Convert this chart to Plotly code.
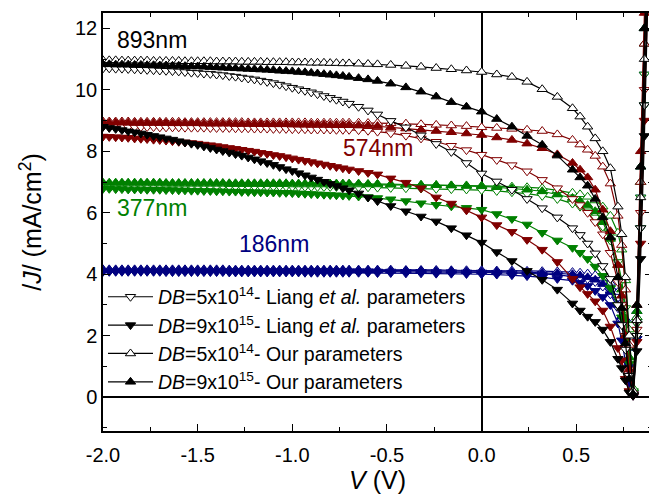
import plotly.graph_objects as go

# Voltage grid (V): dense part then sparse part
V_DENSE = [-2.000, -1.967, -1.933, -1.900, -1.867, -1.833, -1.800, -1.767, -1.733, -1.700,
           -1.667, -1.633, -1.600, -1.567, -1.533, -1.500, -1.467, -1.433, -1.400, -1.367,
           -1.333, -1.300, -1.267, -1.233, -1.200, -1.167, -1.133, -1.100, -1.067, -1.033,
           -1.000, -0.967, -0.933, -0.900, -0.867, -0.833, -0.800, -0.767, -0.733, -0.700]
V_SPARSE = [-0.65, -0.60, -0.55, -0.48, -0.40, -0.32, -0.24, -0.16, -0.08, 0.00,
            0.08, 0.16, 0.24, 0.32, 0.40, 0.48, 0.52, 0.56, 0.60, 0.64,
            0.68, 0.72, 0.74, 0.76, 0.78, 0.80, 0.82, 0.84, 0.86, 0.88]

X_TICKS = [-2.0, -1.5, -1.0, -0.5, 0.0, 0.5]
X_TICK_LABELS = ["-2.0", "-1.5", "-1.0", "-0.5", "0.0", "0.5"]
Y_TICKS = [0, 2, 4, 6, 8, 10, 12]
Y_TICK_LABELS = ["0", "2", "4", "6", "8", "10", "12"]

# 893 nm
J893_ours5_d = [10.96,10.96,10.96,10.95,10.95,10.95,10.95,10.95,10.94,10.94,
                10.94,10.94,10.94,10.93,10.93,10.93,10.93,10.93,10.92,10.92,
                10.92,10.92,10.91,10.91,10.91,10.91,10.90,10.90,10.90,10.90,
                10.89,10.89,10.89,10.88,10.88,10.88,10.87,10.87,10.86,10.86]
J893_ours5_s = [10.85,10.84,10.83,10.81,10.78,10.75,10.71,10.67,10.63,10.58,10.50,10.42,10.26,10.02,9.77,
                9.40,9.13,8.80,8.42,8.00,7.45,6.20,5.30,3.90,2.00,0.20,2.5,6.5,11.0,15.5]
J893_ours9_d = [10.83,10.83,10.82,10.82,10.82,10.81,10.81,10.80,10.80,10.79,
                10.79,10.78,10.78,10.77,10.76,10.76,10.75,10.74,10.73,10.72,
                10.71,10.70,10.69,10.68,10.67,10.66,10.65,10.64,10.62,10.61,
                10.60,10.58,10.57,10.55,10.53,10.51,10.49,10.47,10.45,10.42]
J893_ours9_s = [10.38,10.34,10.29,10.20,10.08,9.94,9.78,9.60,9.45,9.29,9.05,8.80,8.50,8.21,7.86,
                7.40,7.15,6.88,6.45,5.85,5.20,3.90,2.90,1.75,0.60,0.10,3.0,7.5,12.0,16.0]
J893_liang5_d = [10.70,10.70,10.69,10.69,10.68,10.67,10.66,10.65,10.64,10.63,
                 10.62,10.61,10.60,10.58,10.56,10.55,10.53,10.52,10.50,10.48,
                 10.45,10.43,10.40,10.37,10.34,10.30,10.26,10.22,10.17,10.12,
                 10.07,10.02,9.97,9.92,9.86,9.80,9.74,9.68,9.62,9.55]
J893_liang5_s = [9.45,9.33,9.20,8.99,8.78,8.52,8.24,7.98,7.62,7.28,7.02,6.75,6.45,6.15,5.85,
                 5.50,5.28,5.00,4.68,4.27,3.85,3.00,2.35,1.55,0.70,0.08,2.0,5.5,9.5,14.0]
J893_liang9_d = [8.80,8.76,8.73,8.69,8.65,8.62,8.58,8.54,8.50,8.46,
                 8.42,8.38,8.33,8.29,8.25,8.21,8.16,8.11,8.06,8.01,
                 7.96,7.91,7.86,7.80,7.74,7.68,7.62,7.56,7.49,7.42,
                 7.36,7.29,7.22,7.15,7.08,7.01,6.94,6.87,6.80,6.73]
J893_liang9_s = [6.63,6.50,6.38,6.22,6.05,5.88,5.72,5.50,5.27,5.03,4.72,4.43,4.11,3.82,3.50,
                 3.05,2.82,2.62,2.45,2.20,1.80,1.25,0.95,0.55,0.15,0.05,1.5,4.5,8.5,13.5]

# 574 nm
J574_ours5_d = [8.97,8.97,8.97,8.97,8.97,8.96,8.96,8.96,8.96,8.96,
                8.96,8.96,8.96,8.95,8.95,8.95,8.95,8.95,8.95,8.95,
                8.95,8.95,8.95,8.94,8.94,8.94,8.94,8.94,8.94,8.94,
                8.94,8.94,8.94,8.93,8.93,8.93,8.93,8.93,8.93,8.93]
J574_ours5_s = [8.93,8.92,8.92,8.91,8.90,8.88,8.86,8.84,8.82,8.78,8.76,8.73,8.70,8.66,8.55,
                8.37,8.22,8.05,7.85,7.50,6.95,5.90,4.95,3.50,1.70,0.20,2.5,7.0,11.5,16.0]
J574_ours9_d = [8.93,8.93,8.93,8.93,8.93,8.92,8.92,8.92,8.92,8.92,
                8.92,8.91,8.91,8.91,8.91,8.91,8.90,8.90,8.90,8.90,
                8.90,8.89,8.89,8.89,8.89,8.89,8.88,8.88,8.88,8.88,
                8.88,8.87,8.87,8.87,8.87,8.87,8.86,8.86,8.86,8.86]
J574_ours9_s = [8.85,8.84,8.82,8.78,8.74,8.70,8.66,8.62,8.58,8.53,8.45,8.37,8.25,8.10,7.90,
                7.62,7.40,7.15,6.75,6.10,5.40,4.30,3.30,2.00,0.90,0.15,3.0,8.0,12.5,17.0]
J574_liang5_d = [8.80,8.80,8.80,8.80,8.79,8.79,8.79,8.79,8.79,8.78,
                 8.78,8.78,8.78,8.77,8.77,8.77,8.77,8.76,8.76,8.76,
                 8.76,8.75,8.75,8.75,8.74,8.74,8.74,8.73,8.73,8.73,
                 8.72,8.72,8.72,8.71,8.71,8.71,8.71,8.70,8.70,8.70]
J574_liang5_s = [8.69,8.67,8.64,8.59,8.51,8.42,8.31,8.18,8.04,7.89,7.72,7.55,7.35,7.07,6.80,
                 6.45,6.25,6.00,5.70,5.30,4.70,3.75,3.00,2.00,0.90,0.10,2.2,6.0,10.0,14.5]
J574_liang9_d = [8.48,8.47,8.46,8.45,8.44,8.42,8.41,8.40,8.38,8.37,
                 8.35,8.33,8.31,8.29,8.27,8.25,8.22,8.20,8.17,8.14,
                 8.11,8.08,8.05,8.02,7.99,7.95,7.92,7.88,7.85,7.81,
                 7.77,7.73,7.69,7.65,7.61,7.57,7.53,7.49,7.45,7.41]
J574_liang9_s = [7.36,7.30,7.25,7.12,6.98,6.80,6.50,6.30,6.08,5.85,5.60,5.38,5.12,4.80,4.40,
                 3.85,3.58,3.36,3.12,2.82,2.30,1.60,1.20,0.60,0.20,0.05,1.8,5.0,9.0,13.5]

# 377 nm
J377_ours5_d = [6.95,6.95,6.95,6.95,6.95,6.95,6.95,6.95,6.95,6.95,
                6.94,6.94,6.94,6.94,6.94,6.94,6.94,6.94,6.94,6.94,
                6.93,6.93,6.93,6.93,6.93,6.93,6.93,6.93,6.93,6.93,
                6.92,6.92,6.92,6.92,6.92,6.92,6.92,6.92,6.92,6.92]
J377_ours5_s = [6.92,6.92,6.92,6.91,6.91,6.90,6.90,6.89,6.89,6.88,6.87,6.85,6.83,6.80,6.73,
                6.65,6.60,6.52,6.40,6.20,5.90,5.35,4.80,3.80,2.20,0.30,2.6,7.0,11.5,16.0]
J377_ours9_d = [6.98,6.98,6.98,6.98,6.98,6.98,6.98,6.98,6.98,6.98,
                6.97,6.97,6.97,6.97,6.97,6.97,6.97,6.97,6.97,6.97,
                6.96,6.96,6.96,6.96,6.96,6.96,6.96,6.96,6.96,6.96,
                6.95,6.95,6.95,6.95,6.95,6.95,6.95,6.95,6.95,6.95]
J377_ours9_s = [6.95,6.94,6.94,6.93,6.92,6.91,6.90,6.89,6.87,6.86,6.83,6.80,6.75,6.70,6.60,
                6.48,6.38,6.25,6.05,5.70,5.15,4.30,3.50,2.50,1.30,0.20,2.8,7.5,12.0,16.5]
J377_liang5_d = [6.88,6.88,6.88,6.88,6.88,6.87,6.87,6.87,6.87,6.87,
                 6.86,6.86,6.86,6.86,6.86,6.86,6.86,6.86,6.86,6.86,
                 6.85,6.85,6.85,6.85,6.85,6.85,6.85,6.85,6.85,6.85,
                 6.84,6.84,6.84,6.84,6.84,6.84,6.84,6.84,6.84,6.84]
J377_liang5_s = [6.83,6.83,6.82,6.81,6.80,6.79,6.78,6.77,6.76,6.74,6.71,6.67,6.62,6.55,6.45,
                 6.30,6.20,6.05,5.85,5.55,5.10,4.40,3.80,2.90,1.60,0.20,2.4,6.5,10.5,15.0]
J377_liang9_d = [6.78,6.78,6.77,6.77,6.76,6.76,6.76,6.75,6.75,6.75,
                 6.74,6.74,6.73,6.73,6.72,6.72,6.71,6.71,6.70,6.70,
                 6.69,6.69,6.68,6.68,6.67,6.67,6.66,6.66,6.65,6.65,
                 6.64,6.63,6.62,6.61,6.60,6.59,6.58,6.57,6.56,6.55]
J377_liang9_s = [6.53,6.51,6.48,6.44,6.38,6.31,6.26,6.21,6.16,6.10,5.96,5.80,5.62,5.35,5.10,
                 4.86,4.70,4.50,4.25,3.95,3.55,3.00,2.60,2.00,1.10,0.15,2.0,5.5,9.5,14.0]

# 186 nm
J186_ours5_d = [4.16,4.16,4.16,4.16,4.16,4.16,4.16,4.16,4.16,4.16,
                4.16,4.16,4.16,4.16,4.16,4.16,4.16,4.16,4.16,4.16,
                4.15,4.15,4.15,4.15,4.15,4.15,4.15,4.15,4.15,4.15,
                4.15,4.15,4.15,4.15,4.15,4.15,4.15,4.15,4.15,4.15]
J186_ours5_s = [4.15,4.15,4.15,4.15,4.14,4.14,4.14,4.13,4.13,4.13,4.12,4.12,4.11,4.10,4.09,
                4.07,4.05,4.02,3.97,3.88,3.72,3.42,3.10,2.55,1.60,0.25,2.6,7.0,11.5,16.0]
J186_ours9_d = [4.14,4.14,4.14,4.14,4.14,4.14,4.14,4.14,4.14,4.14,
                4.14,4.14,4.14,4.14,4.14,4.14,4.14,4.14,4.14,4.14,
                4.13,4.13,4.13,4.13,4.13,4.13,4.13,4.13,4.13,4.13,
                4.13,4.13,4.13,4.13,4.13,4.13,4.13,4.13,4.13,4.13]
J186_ours9_s = [4.13,4.13,4.13,4.12,4.12,4.12,4.11,4.11,4.10,4.10,4.09,4.08,4.07,4.05,4.03,
                4.00,3.96,3.90,3.82,3.68,3.42,3.00,2.62,1.95,1.05,0.15,2.8,7.5,12.0,16.5]
J186_liang5_d = [4.11,4.11,4.11,4.11,4.11,4.11,4.11,4.11,4.11,4.11,
                 4.11,4.11,4.11,4.11,4.11,4.11,4.11,4.11,4.11,4.11,
                 4.10,4.10,4.10,4.10,4.10,4.10,4.10,4.10,4.10,4.10,
                 4.10,4.10,4.10,4.10,4.10,4.10,4.10,4.10,4.10,4.10]
J186_liang5_s = [4.10,4.10,4.09,4.09,4.08,4.08,4.07,4.07,4.06,4.06,4.05,4.04,4.03,4.01,3.98,
                 3.94,3.90,3.84,3.75,3.60,3.35,2.90,2.50,1.90,1.00,0.15,2.4,6.5,10.5,15.0]
J186_liang9_d = [4.08,4.08,4.08,4.08,4.08,4.08,4.08,4.08,4.08,4.08,
                 4.07,4.07,4.07,4.07,4.07,4.07,4.07,4.07,4.07,4.07,
                 4.06,4.06,4.06,4.06,4.06,4.06,4.06,4.06,4.06,4.06,
                 4.06,4.06,4.05,4.05,4.05,4.05,4.05,4.05,4.05,4.05]
J186_liang9_s = [4.05,4.05,4.04,4.04,4.03,4.03,4.02,4.02,4.01,4.00,3.99,3.97,3.94,3.90,3.85,
                 3.79,3.72,3.62,3.46,3.26,3.00,2.40,1.85,1.20,0.44,0.05,1.9,5.5,9.5,14.0]

LEGEND_LABELS = [
    "<i>DB</i>=5x10<sup>14</sup>- Liang <i>et al.</i> parameters",
    "<i>DB</i>=9x10<sup>15</sup>- Liang <i>et al.</i> parameters",
    "<i>DB</i>=5x10<sup>14</sup>- Our parameters",
    "<i>DB</i>=9x10<sup>15</sup>- Our parameters",
]
THICKNESS_LABELS = ["893nm", "574nm", "377nm", "186nm"]
LABEL_X = [-1.74, -0.55, -1.74, -1.095]
LABEL_Y = [11.63, 8.10, 6.17, 4.97]
LABEL_COLORS = ["#000000", "#800000", "#008000", "#000080"]

V = V_DENSE + V_SPARSE
groups = [
    ("#000080", [J186_liang5_d + J186_liang5_s, J186_liang9_d + J186_liang9_s,
                 J186_ours5_d + J186_ours5_s, J186_ours9_d + J186_ours9_s]),
    ("#008000", [J377_liang5_d + J377_liang5_s, J377_liang9_d + J377_liang9_s,
                 J377_ours5_d + J377_ours5_s, J377_ours9_d + J377_ours9_s]),
    ("#800000", [J574_liang5_d + J574_liang5_s, J574_liang9_d + J574_liang9_s,
                 J574_ours5_d + J574_ours5_s, J574_ours9_d + J574_ours9_s]),
    ("#000000", [J893_liang5_d + J893_liang5_s, J893_liang9_d + J893_liang9_s,
                 J893_ours5_d + J893_ours5_s, J893_ours9_d + J893_ours9_s]),
]
symbols = ["triangle-down", "triangle-down", "triangle-up", "triangle-up"]
filled = [False, True, False, True]

FONT = "Liberation Sans, Arial, Helvetica, sans-serif"
fig = go.Figure()
for color, series in groups:
    for k, J in enumerate(series):
        fig.add_trace(go.Scatter(
            x=V, y=J, mode="lines+markers", showlegend=False,
            line=dict(color=color, width=1.2),
            marker=dict(symbol=symbols[k], size=9,
                        color=color if filled[k] else "white",
                        line=dict(color=color, width=1)),
        ))

for k, lab in enumerate(LEGEND_LABELS):
    fig.add_trace(go.Scatter(
        x=[None], y=[None], mode="lines+markers", name=lab,
        line=dict(color="black", width=1.2),
        marker=dict(symbol=symbols[k], size=9,
                    color="black" if filled[k] else "white",
                    line=dict(color="black", width=1)),
    ))

for lab, x, y, c in zip(THICKNESS_LABELS, LABEL_X, LABEL_Y, LABEL_COLORS):
    fig.add_annotation(x=x, y=y, text=lab, showarrow=False,
                       font=dict(family=FONT, size=23, color=c))

axis_common = dict(
    showgrid=False, showline=True, linecolor="black", linewidth=1.5,
    mirror="allticks", ticks="inside", ticklen=7, tickwidth=1.2, tickcolor="black",
    zeroline=True, zerolinecolor="black", zerolinewidth=1.5,
    tickfont=dict(family=FONT, size=20, color="black"),
    automargin=False,
)
fig.update_xaxes(range=[-2.0, 0.9], tickmode="array", tickvals=X_TICKS, ticktext=X_TICK_LABELS,
                 ticklabelstandoff=5,
                 minor=dict(dtick=0.25, tick0=0, ticks="inside", ticklen=4, tickcolor="black", tickwidth=1.2),
                 title=dict(text="<i>V</i> (V)", font=dict(family=FONT, size=25, color="black"), standoff=5),
                 **axis_common)
fig.update_yaxes(range=[-1.1, 12.5], tickmode="array", tickvals=Y_TICKS, ticktext=Y_TICK_LABELS,
                 minor=dict(dtick=1, tick0=0, ticks="inside", ticklen=4, tickcolor="black", tickwidth=1.2),
                 title=dict(text="/<i>J</i>/ (mA/cm<sup>2</sup>)", font=dict(family=FONT, size=25, color="black"), standoff=26),
                 **axis_common)

fig.update_layout(
    width=657, height=498,
    margin=dict(l=95, r=13, t=5, b=75),
    plot_bgcolor="white", paper_bgcolor="white",
    legend=dict(x=0.0, y=0.367, xanchor="left", yanchor="top",
                bgcolor="rgba(0,0,0,0)", itemwidth=45,
                font=dict(family=FONT, size=19.5, color="black"),
                tracegroupgap=0),
)
fig.write_html("out.html")
